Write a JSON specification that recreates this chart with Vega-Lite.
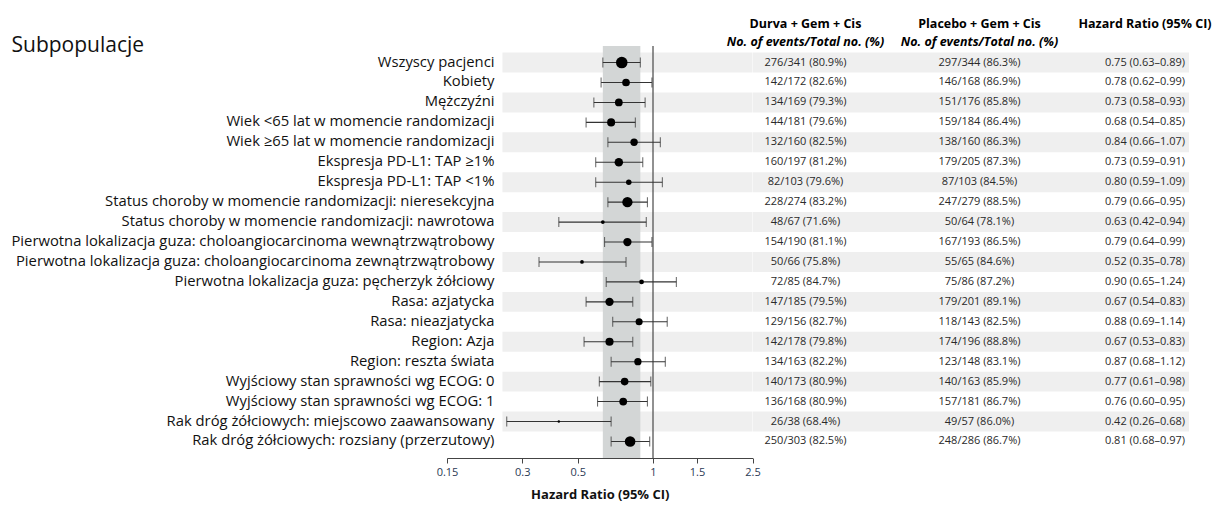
{
  "$schema": "https://vega.github.io/schema/vega-lite/v6.json",
  "background": "white",
  "padding": {"left": 10, "top": 18, "right": 5, "bottom": 2},
  "spacing": 0,
  "bounds": "flush",
  "config": {
    "view": {"stroke": null},
    "font": "Open Sans",
    "title": {
      "anchor": "middle",
      "frame": "group",
      "fontSize": 12.5,
      "fontWeight": "bold",
      "color": "#000",
      "subtitleFontSize": 12.5,
      "subtitleFontWeight": "bold",
      "subtitleFontStyle": "italic",
      "subtitleColor": "#000",
      "subtitleFont": "Open Sans",
      "offset": -2,
      "subtitlePadding": 5
    }
  },
  "data": {
    "values": [
      {"label": "Wszyscy pacjenci", "hr": 0.75, "lo": 0.63, "hi": 0.89, "n": 685, "durva": "276/341 (80.9%)", "placebo": "297/344 (86.3%)", "hrtxt": "0.75 (0.63–0.89)"},
      {"label": "Kobiety", "hr": 0.78, "lo": 0.62, "hi": 0.99, "n": 340, "durva": "142/172 (82.6%)", "placebo": "146/168 (86.9%)", "hrtxt": "0.78 (0.62–0.99)"},
      {"label": "Mężczyźni", "hr": 0.73, "lo": 0.58, "hi": 0.93, "n": 345, "durva": "134/169 (79.3%)", "placebo": "151/176 (85.8%)", "hrtxt": "0.73 (0.58–0.93)"},
      {"label": "Wiek <65 lat w momencie randomizacji", "hr": 0.68, "lo": 0.54, "hi": 0.85, "n": 365, "durva": "144/181 (79.6%)", "placebo": "159/184 (86.4%)", "hrtxt": "0.68 (0.54–0.85)"},
      {"label": "Wiek ≥65 lat w momencie randomizacji", "hr": 0.84, "lo": 0.66, "hi": 1.07, "n": 320, "durva": "132/160 (82.5%)", "placebo": "138/160 (86.3%)", "hrtxt": "0.84 (0.66–1.07)"},
      {"label": "Ekspresja PD-L1: TAP ≥1%", "hr": 0.73, "lo": 0.59, "hi": 0.91, "n": 402, "durva": "160/197 (81.2%)", "placebo": "179/205 (87.3%)", "hrtxt": "0.73 (0.59–0.91)"},
      {"label": "Ekspresja PD-L1: TAP <1%", "hr": 0.80, "lo": 0.59, "hi": 1.09, "n": 206, "durva": "82/103 (79.6%)", "placebo": "87/103 (84.5%)", "hrtxt": "0.80 (0.59–1.09)"},
      {"label": "Status choroby w momencie randomizacji: nieresekcyjna", "hr": 0.79, "lo": 0.66, "hi": 0.95, "n": 553, "durva": "228/274 (83.2%)", "placebo": "247/279 (88.5%)", "hrtxt": "0.79 (0.66–0.95)"},
      {"label": "Status choroby w momencie randomizacji: nawrotowa", "hr": 0.63, "lo": 0.42, "hi": 0.94, "n": 131, "durva": "48/67 (71.6%)", "placebo": "50/64 (78.1%)", "hrtxt": "0.63 (0.42–0.94)"},
      {"label": "Pierwotna lokalizacja guza: choloangiocarcinoma wewnątrzwątrobowy", "hr": 0.79, "lo": 0.64, "hi": 0.99, "n": 383, "durva": "154/190 (81.1%)", "placebo": "167/193 (86.5%)", "hrtxt": "0.79 (0.64–0.99)"},
      {"label": "Pierwotna lokalizacja guza: choloangiocarcinoma zewnątrzwątrobowy", "hr": 0.52, "lo": 0.35, "hi": 0.78, "n": 131, "durva": "50/66 (75.8%)", "placebo": "55/65 (84.6%)", "hrtxt": "0.52 (0.35–0.78)"},
      {"label": "Pierwotna lokalizacja guza: pęcherzyk żółciowy", "hr": 0.90, "lo": 0.65, "hi": 1.24, "n": 171, "durva": "72/85 (84.7%)", "placebo": "75/86 (87.2%)", "hrtxt": "0.90 (0.65–1.24)"},
      {"label": "Rasa: azjatycka", "hr": 0.67, "lo": 0.54, "hi": 0.83, "n": 386, "durva": "147/185 (79.5%)", "placebo": "179/201 (89.1%)", "hrtxt": "0.67 (0.54–0.83)"},
      {"label": "Rasa: nieazjatycka", "hr": 0.88, "lo": 0.69, "hi": 1.14, "n": 299, "durva": "129/156 (82.7%)", "placebo": "118/143 (82.5%)", "hrtxt": "0.88 (0.69–1.14)"},
      {"label": "Region: Azja", "hr": 0.67, "lo": 0.53, "hi": 0.83, "n": 374, "durva": "142/178 (79.8%)", "placebo": "174/196 (88.8%)", "hrtxt": "0.67 (0.53–0.83)"},
      {"label": "Region: reszta świata", "hr": 0.87, "lo": 0.68, "hi": 1.12, "n": 311, "durva": "134/163 (82.2%)", "placebo": "123/148 (83.1%)", "hrtxt": "0.87 (0.68–1.12)"},
      {"label": "Wyjściowy stan sprawności wg ECOG: 0", "hr": 0.77, "lo": 0.61, "hi": 0.98, "n": 336, "durva": "140/173 (80.9%)", "placebo": "140/163 (85.9%)", "hrtxt": "0.77 (0.61–0.98)"},
      {"label": "Wyjściowy stan sprawności wg ECOG: 1", "hr": 0.76, "lo": 0.60, "hi": 0.95, "n": 349, "durva": "136/168 (80.9%)", "placebo": "157/181 (86.7%)", "hrtxt": "0.76 (0.60–0.95)"},
      {"label": "Rak dróg żółciowych: miejscowo zaawansowany", "hr": 0.42, "lo": 0.26, "hi": 0.68, "n": 95, "durva": "26/38 (68.4%)", "placebo": "49/57 (86.0%)", "hrtxt": "0.42 (0.26–0.68)"},
      {"label": "Rak dróg żółciowych: rozsiany (przerzutowy)", "hr": 0.81, "lo": 0.68, "hi": 0.97, "n": 589, "durva": "250/303 (82.5%)", "placebo": "248/286 (86.7%)", "hrtxt": "0.81 (0.68–0.97)"}
    ]
  },
  "transform": [{"window": [{"op": "row_number", "as": "rn"}]}],
  "hconcat": [
    {
      "width": 305.5,
      "height": 412,
      "layer": [
        {
          "mark": {"type": "rect"},
          "encoding": {
            "y": {"field": "label", "type": "nominal", "sort": null,
              "scale": {"paddingInner": 0, "paddingOuter": 0.33},
              "axis": {"orient": "left", "offset": -47, "domain": false, "ticks": false, "tickSize": 0, "labelPadding": 0, "labelLimit": 700,
                "labelFont": "Open Sans", "labelFontSize": 14.8, "labelColor": "#111",
                "title": "Subpopulacje", "titleAngle": 0, "titleX": -483, "titleY": -1, "titleAlign": "left", "titleBaseline": "middle",
                "titleFont": "Open Sans", "titleFontSize": 21, "titleFontWeight": "normal", "titleColor": "#111"}},
            "x": {"datum": 0.25, "type": "quantitative"},
            "x2": {"datum": 2.5},
            "fill": {"condition": {"test": "datum.rn % 2 == 1", "value": "#efefef"}, "value": "transparent"}
          }
        },
        {
          "data": {"values": [{"lo": 0.63, "hi": 0.89}]},
          "mark": {"type": "rect", "color": "#d3d6d6"},
          "encoding": {
            "x": {"field": "lo", "type": "quantitative"},
            "x2": {"field": "hi"}
          }
        },
        {
          "data": {"values": [{"ref": 1}]},
          "mark": {"type": "rule", "color": "#555", "strokeWidth": 1.3},
          "encoding": {"x": {"field": "ref", "type": "quantitative"}}
        },
        {
          "mark": {"type": "rule", "color": "#333", "strokeWidth": 1.1},
          "encoding": {
            "y": {"field": "label", "type": "nominal", "sort": null},
            "x": {"field": "lo", "type": "quantitative",
              "scale": {"type": "log", "domain": [0.15, 2.5], "nice": false, "zero": false},
              "axis": {"values": [0.15, 0.3, 0.5, 1, 1.5, 2.5], "format": "~g", "grid": false, "labelFlush": false,
                "domainColor": "#444", "tickColor": "#444", "tickSize": 5, "labelColor": "#2b3a55", "labelFontSize": 11, "labelFont": "Open Sans", "labelPadding": 3,
                "title": "Hazard Ratio (95% CI)", "titleFont": "Open Sans", "titleFontSize": 13, "titleFontWeight": "bold", "titleColor": "#111", "titlePadding": 11}},
            "x2": {"field": "hi"}
          }
        },
        {
          "mark": {"type": "tick", "orient": "vertical", "color": "#333", "size": 10, "thickness": 1.1},
          "encoding": {
            "y": {"field": "label", "type": "nominal", "sort": null},
            "x": {"field": "lo", "type": "quantitative"}
          }
        },
        {
          "mark": {"type": "tick", "orient": "vertical", "color": "#333", "size": 10, "thickness": 1.1},
          "encoding": {
            "y": {"field": "label", "type": "nominal", "sort": null},
            "x": {"field": "hi", "type": "quantitative"}
          }
        },
        {
          "mark": {"type": "circle", "color": "#000", "opacity": 1},
          "encoding": {
            "y": {"field": "label", "type": "nominal", "sort": null},
            "x": {"field": "hr", "type": "quantitative"},
            "size": {"field": "n", "type": "quantitative", "scale": {"domain": [90, 690], "range": [5, 135]}, "legend": null}
          }
        }
      ]
    },
    {
      "width": 105,
      "height": 412,
      "title": {"text": "Durva + Gem + Cis", "subtitle": "No. of events/Total no. (%)"},
      "layer": [
        {
          "mark": {"type": "rect"},
          "encoding": {
            "y": {"field": "label", "type": "nominal", "sort": null, "scale": {"paddingInner": 0, "paddingOuter": 0.33}, "axis": null},
            "fill": {"condition": {"test": "datum.rn % 2 == 1", "value": "#efefef"}, "value": "transparent"}
          }
        },
        {
          "mark": {"type": "text", "fontSize": 11, "color": "#2a2a2a", "font": "Open Sans"},
          "encoding": {
            "y": {"field": "label", "type": "nominal", "sort": null},
            "text": {"field": "durva"}
          }
        }
      ]
    },
    {
      "width": 243,
      "height": 412,
      "title": {"text": "Placebo + Gem + Cis", "subtitle": "No. of events/Total no. (%)"},
      "layer": [
        {
          "mark": {"type": "rect"},
          "encoding": {
            "y": {"field": "label", "type": "nominal", "sort": null, "scale": {"paddingInner": 0, "paddingOuter": 0.33}, "axis": null},
            "fill": {"condition": {"test": "datum.rn % 2 == 1", "value": "#efefef"}, "value": "transparent"}
          }
        },
        {
          "mark": {"type": "text", "fontSize": 11, "color": "#2a2a2a", "font": "Open Sans"},
          "encoding": {
            "y": {"field": "label", "type": "nominal", "sort": null},
            "text": {"field": "placebo"}
          }
        }
      ]
    },
    {
      "width": 88,
      "height": 412,
      "title": {"text": "Hazard Ratio (95% CI)", "subtitle": " "},
      "layer": [
        {
          "mark": {"type": "rect"},
          "encoding": {
            "y": {"field": "label", "type": "nominal", "sort": null, "scale": {"paddingInner": 0, "paddingOuter": 0.33}, "axis": null},
            "fill": {"condition": {"test": "datum.rn % 2 == 1", "value": "#efefef"}, "value": "transparent"}
          }
        },
        {
          "mark": {"type": "text", "fontSize": 11, "color": "#2a2a2a", "font": "Open Sans"},
          "encoding": {
            "y": {"field": "label", "type": "nominal", "sort": null},
            "text": {"field": "hrtxt"}
          }
        }
      ]
    }
  ]
}
